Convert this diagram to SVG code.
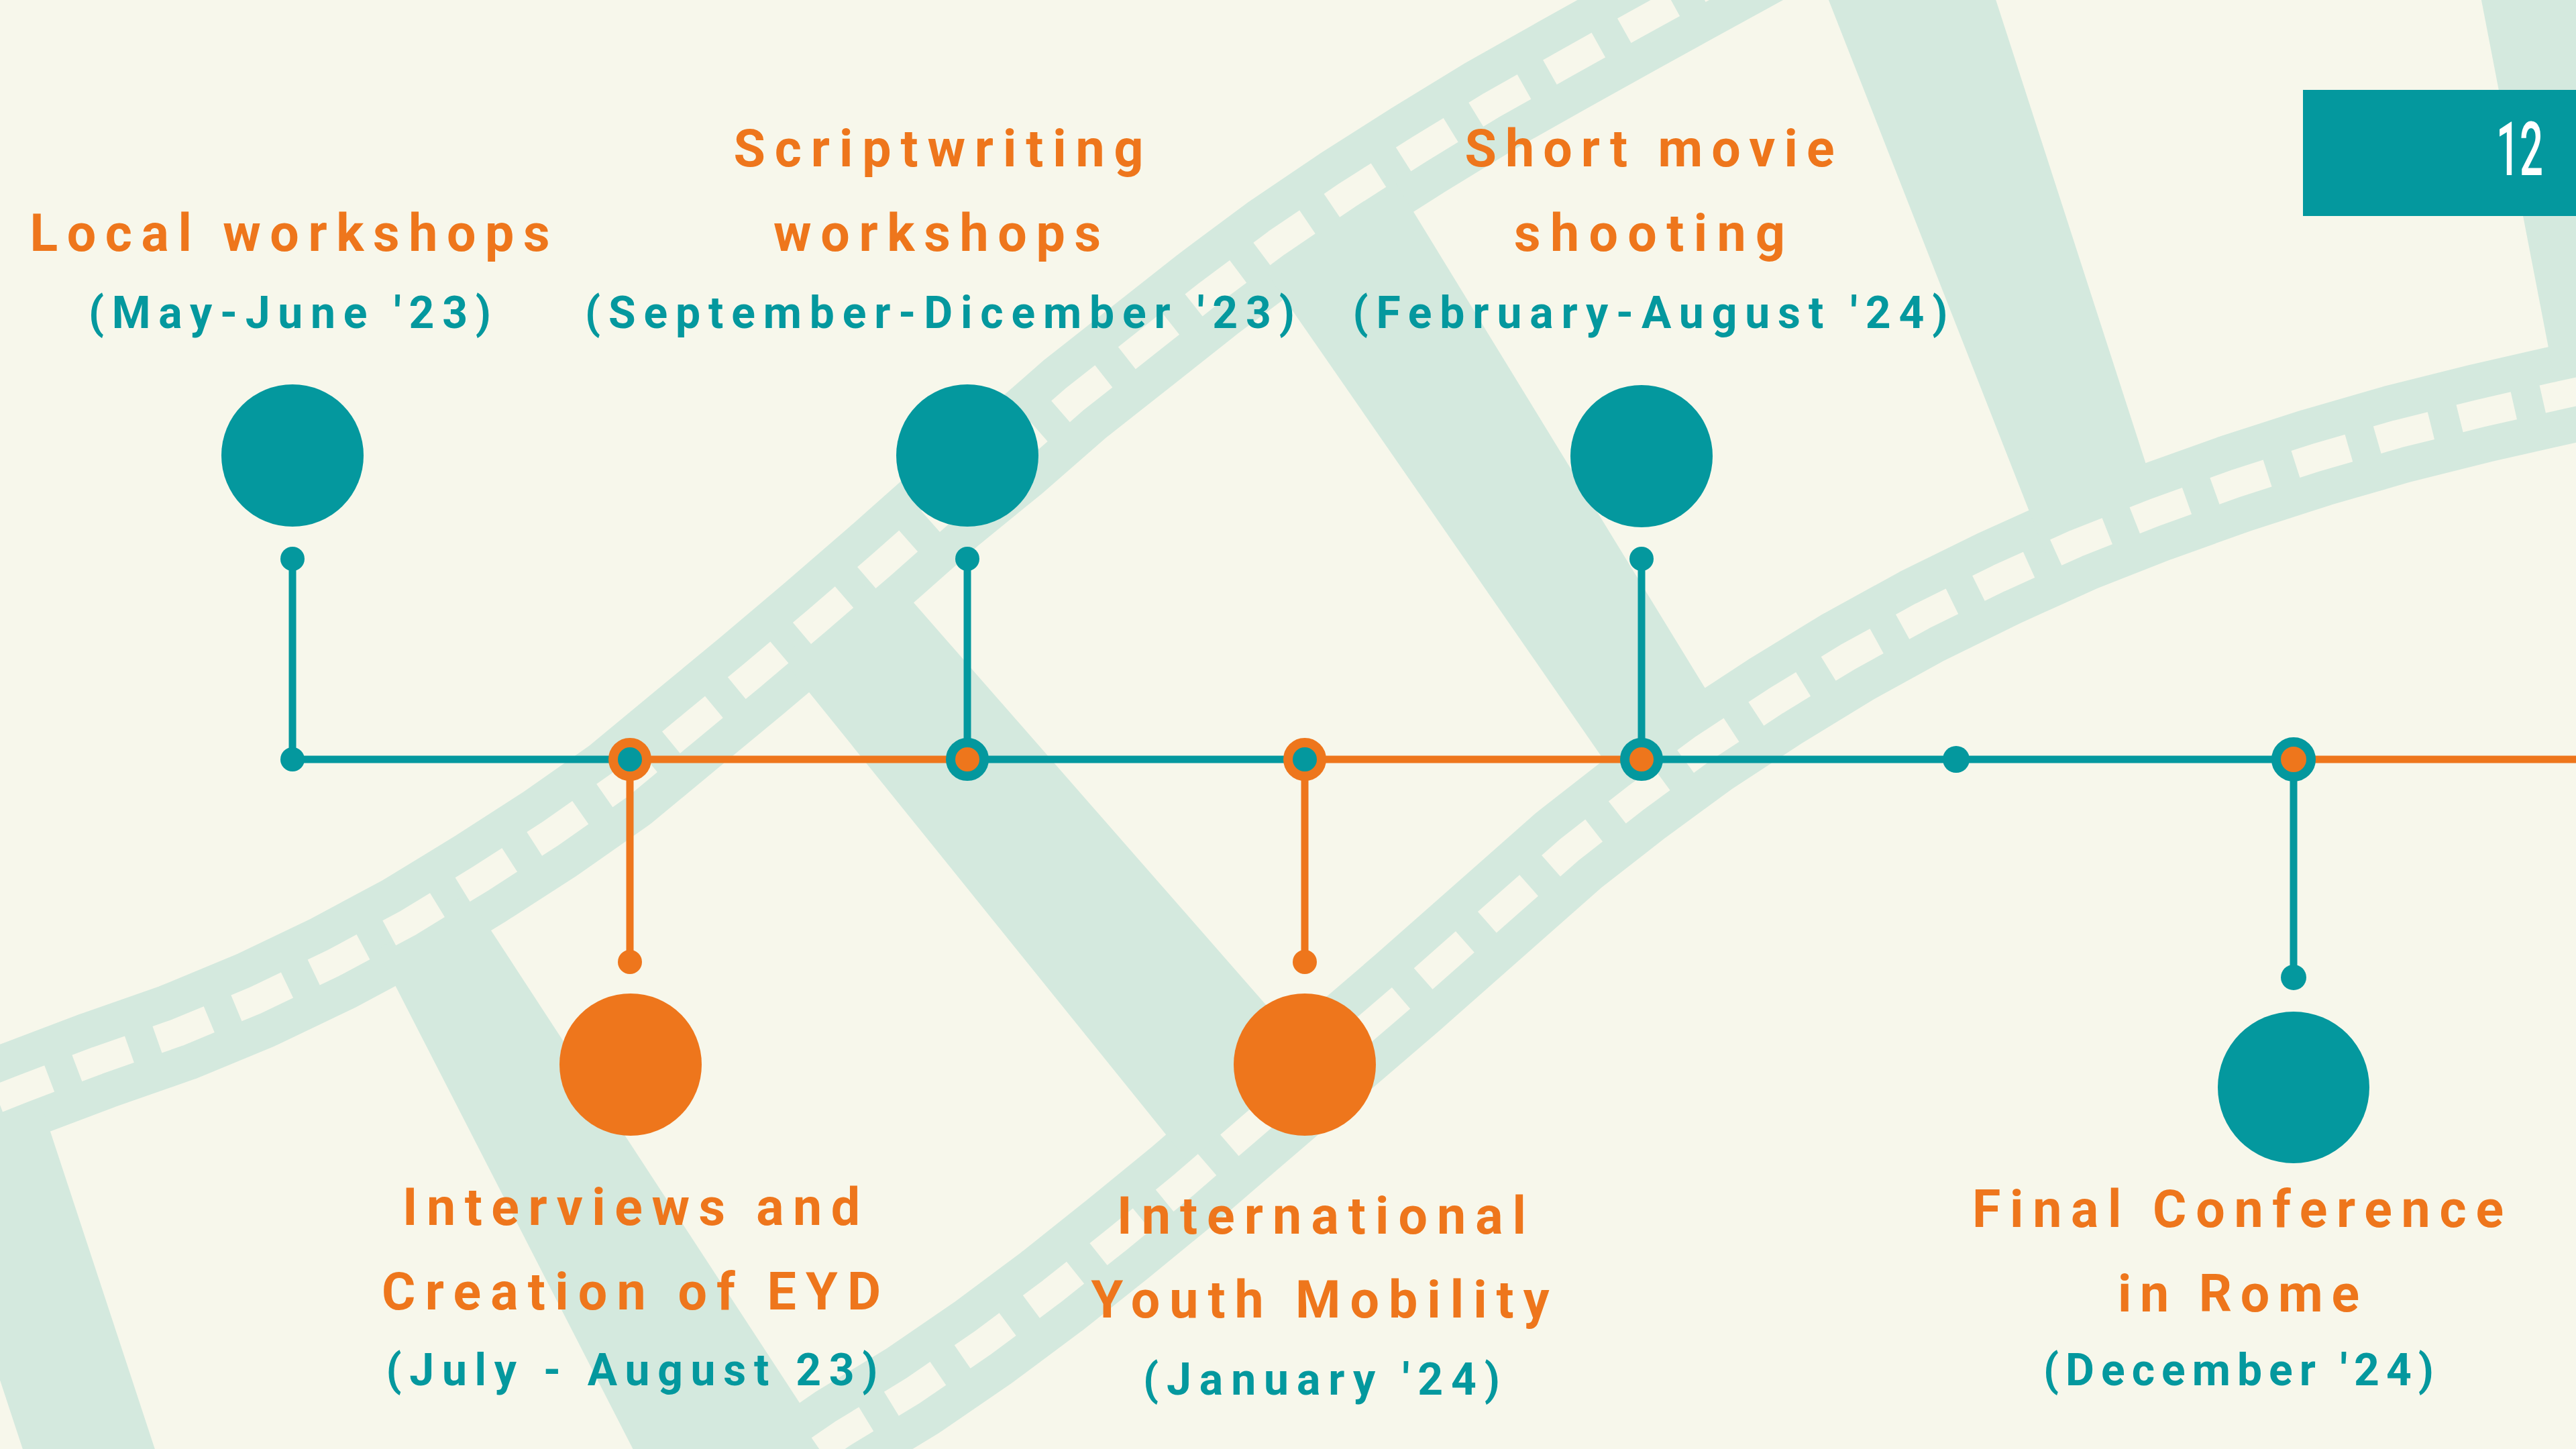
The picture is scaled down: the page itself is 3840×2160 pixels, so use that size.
<svg xmlns="http://www.w3.org/2000/svg" width="3840" height="2160" viewBox="0 0 3840 2160">
<defs>
<style>
.bg{fill:#F7F7EB}
.band{fill:#D4E9DE}
.strip{fill:none;stroke:#D4E9DE;stroke-width:148;stroke-linejoin:round}
.holes{fill:none;stroke:#F7F7EB;stroke-width:42;stroke-dasharray:83 44;stroke-linejoin:round}
.lt{stroke:#04989E;stroke-width:11;fill:none}
.lo{stroke:#EE761C;stroke-width:11;fill:none}
.ft{fill:#04989E}
.fo{fill:#EE761C}
.ring-o{stroke:#EE761C;stroke-width:14;fill:#04989E}
.ring-t{stroke:#04989E;stroke-width:14;fill:#EE761C}
.title{font-family:Roboto,"DejaVu Sans",sans-serif;font-weight:700;font-size:77px;fill:#EE761C;text-anchor:middle}
.date{font-family:Roboto,"DejaVu Sans",sans-serif;font-weight:700;font-size:66px;fill:#04989E;text-anchor:middle}
.num{font-family:Roboto,"DejaVu Sans",sans-serif;font-weight:500;font-size:112px;fill:#FFFFFF;text-anchor:middle}
</style>
</defs>
<rect class="bg" x="0" y="0" width="3840" height="2160"/>
<g id="film-background">
  <path class="strip" d="M -80 1668 L 34 1623 L 145 1581 L 265 1539 L 381 1491 L 496 1436 L 608 1376 L 716 1310 L 820 1243 L 924 1170 L 1023 1088 L 1121 1007 L 1218 925 L 1314 842 L 1410 757 L 1507 678 L 1602 595 L 1701 517 L 1801 438 L 1903 362 L 2008 291 L 2115 223 L 2223 157 L 2333 95 L 2437 37 L 2650 -80"/>
  <path class="strip" d="M 1150 2210 L 1256 2137 L 1361 2073 L 1466 2001 L 1568 1925 L 1666 1847 L 1765 1766 L 1853 1690 L 2100 1478 L 2339 1267 L 2439 1189 L 2540 1115 L 2647 1045 L 2755 979 L 2866 918 L 2980 862 L 3095 810 L 3212 764 L 3332 721 L 3453 682 L 3574 647 L 3698 616 L 3808 591 L 3950 560"/>
  <polygon class="band" points="53,1620 244,2200 47,2200 -144,1620"/>
  <polygon class="band" points="562,1416 696,1332 1263,2200 964,2200"/>
  <polygon class="band" points="1165,981 1317,847 1931,1548 1775,1737"/>
  <polygon class="band" points="1890,410 2076,265 2581,1090 2420,1175"/>
  <polygon class="band" points="2722,-10 2972,-10 3220,757 3050,826"/>
  <polygon class="band" points="3697,-10 3900,-10 3900,560 3807,560"/>
  <path class="holes" stroke-dashoffset="45" d="M -80 1668 L 34 1623 L 145 1581 L 265 1539 L 381 1491 L 496 1436 L 608 1376 L 716 1310 L 820 1243 L 924 1170 L 1023 1088 L 1121 1007 L 1218 925 L 1314 842 L 1410 757 L 1507 678 L 1602 595 L 1701 517 L 1801 438 L 1903 362 L 2008 291 L 2115 223 L 2223 157 L 2333 95 L 2437 37 L 2650 -80"/>
  <path class="holes" stroke-dashoffset="40" d="M 1150 2210 L 1256 2137 L 1361 2073 L 1466 2001 L 1568 1925 L 1666 1847 L 1765 1766 L 1853 1690 L 2100 1478 L 2339 1267 L 2439 1189 L 2540 1115 L 2647 1045 L 2755 979 L 2866 918 L 2980 862 L 3095 810 L 3212 764 L 3332 721 L 3453 682 L 3574 647 L 3698 616 L 3808 591 L 3950 560"/>
</g>
<g id="connectors">
  <line class="lt" x1="436" y1="1132" x2="939" y2="1132"/>
  <line class="lo" x1="939" y1="1132" x2="1442" y2="1132"/>
  <line class="lt" x1="1442" y1="1132" x2="1945" y2="1132"/>
  <line class="lo" x1="1945" y1="1132" x2="2447" y2="1132"/>
  <line class="lt" x1="2447" y1="1132" x2="3419" y2="1132"/>
  <line class="lo" x1="3419" y1="1132" x2="3840" y2="1132"/>
  <line class="lt" x1="436" y1="833" x2="436" y2="1132"/>
  <line class="lo" x1="939" y1="1132" x2="939" y2="1434"/>
  <line class="lt" x1="1442" y1="833" x2="1442" y2="1132"/>
  <line class="lo" x1="1945" y1="1132" x2="1945" y2="1434"/>
  <line class="lt" x1="2447" y1="833" x2="2447" y2="1132"/>
  <line class="lt" x1="3419" y1="1132" x2="3419" y2="1457"/>
  <circle class="ft" cx="436" cy="1132" r="18"/>
  <circle class="ring-o" cx="939" cy="1132" r="25"/>
  <circle class="ring-t" cx="1442" cy="1132" r="25"/>
  <circle class="ring-o" cx="1945" cy="1132" r="25"/>
  <circle class="ring-t" cx="2447" cy="1132" r="25"/>
  <circle class="ft" cx="2916" cy="1132" r="20"/>
  <circle class="ring-t" cx="3419" cy="1132" r="26" stroke-width="15"/>
</g>
<g id="node-local-workshops">
  <circle class="ft" cx="436" cy="679" r="106"/>
  <circle class="ft" cx="436" cy="833" r="18"/>
  <text class="title" x="432" y="374" textLength="775" lengthAdjust="spacing">Local workshops</text>
  <text class="date" x="432" y="489" textLength="600" lengthAdjust="spacing">(May-June '23)</text>
</g>
<g id="node-interviews">
  <circle class="fo" cx="940" cy="1587" r="106"/>
  <circle class="fo" cx="939" cy="1434" r="18"/>
  <text class="title" x="941" y="1826" textLength="682" lengthAdjust="spacing">Interviews and</text>
  <text class="title" x="941" y="1952" textLength="744" lengthAdjust="spacing">Creation of EYD</text>
  <text class="date" x="942" y="2065" textLength="733" lengthAdjust="spacing">(July - August 23)</text>
</g>
<g id="node-scriptwriting">
  <circle class="ft" cx="1442" cy="679" r="106"/>
  <circle class="ft" cx="1442" cy="833" r="18"/>
  <text class="title" x="1399" y="248" textLength="611" lengthAdjust="spacing">Scriptwriting</text>
  <text class="title" x="1397" y="374" textLength="488" lengthAdjust="spacing">workshops</text>
  <text class="date" x="1401" y="489" textLength="1058" lengthAdjust="spacing">(September-Dicember '23)</text>
</g>
<g id="node-youth-mobility">
  <circle class="fo" cx="1945" cy="1587" r="106"/>
  <circle class="fo" cx="1945" cy="1434" r="18"/>
  <text class="title" x="1970" y="1839" textLength="610" lengthAdjust="spacing">International</text>
  <text class="title" x="1968" y="1964" textLength="683" lengthAdjust="spacing">Youth Mobility</text>
  <text class="date" x="1970" y="2079" textLength="532" lengthAdjust="spacing">(January '24)</text>
</g>
<g id="node-short-movie">
  <circle class="ft" cx="2447" cy="680" r="106"/>
  <circle class="ft" cx="2447" cy="833" r="18"/>
  <text class="title" x="2459" y="248" textLength="551" lengthAdjust="spacing">Short movie</text>
  <text class="title" x="2459" y="374" textLength="404" lengthAdjust="spacing">shooting</text>
  <text class="date" x="2460" y="489" textLength="887" lengthAdjust="spacing">(February-August '24)</text>
</g>
<g id="node-final-conference">
  <circle class="ft" cx="3419" cy="1621" r="113"/>
  <circle class="ft" cx="3419" cy="1457" r="19"/>
  <text class="title" x="3336" y="1829" textLength="792" lengthAdjust="spacing">Final Conference</text>
  <text class="title" x="3337" y="1955" textLength="360" lengthAdjust="spacing">in Rome</text>
  <text class="date" x="3337" y="2065" textLength="582" lengthAdjust="spacing">(December '24)</text>
</g>
<g id="page-number">
  <rect class="ft" x="3433" y="134" width="407" height="188"/>
  <text class="num" transform="translate(3756,261) scale(0.55,1)" x="0" y="0">12</text>
</g>
</svg>
